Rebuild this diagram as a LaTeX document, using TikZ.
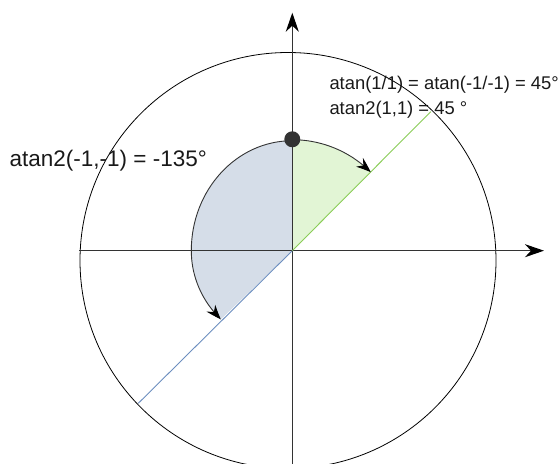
\documentclass[tikz,border=0pt]{standalone}
\usepackage{fontspec}
\setmainfont{Liberation Sans}
\usetikzlibrary{arrows.meta, bending}
\definecolor{ink}{HTML}{333333}
\definecolor{leaf}{HTML}{E2F5D5}
\definecolor{leafline}{HTML}{8ACD57}
\definecolor{slate}{HTML}{D5DDE8}
\definecolor{slateline}{HTML}{6C8EBF}

\begin{document}
\begin{tikzpicture}[x=1pt, y=1pt,
  axis/.style={draw=ink, line width=1.3pt, -{Stealth[length=19pt, width=13pt, inset=6pt, black]}},
  sweep/.style={draw=ink, line width=0.9pt, -{Stealth[length=15pt, width=11pt, inset=5pt, bend, black]}},
  lbl/.style={anchor=base west, inner sep=0pt, text=black!90}
]
  \useasboundingbox (-292.3,-212.3) rectangle (266.7,250.7);
  \clip (-292.3,-212.3) rectangle (266.7,250.7);

  \coordinate (O) at (0,0);
  \coordinate (xs) at (-213,0);
  \coordinate (xe) at (251.7,0);
  \coordinate (ys) at (0,-215);
  \coordinate (ye) at (0,238);
  \coordinate (g) at (138.4,139);
  \coordinate (b) at (-154,-152.6);

  \fill[slate] (O) -- (0,110) arc[start angle=90, end angle=180, x radius=101, y radius=110]
    arc[start angle=180, end angle=225, x radius=101, y radius=97] -- cycle;
  \fill[leaf] (O) -- (0,111) arc[start angle=90, end angle=45, radius=111] -- cycle;

  \draw[black, line width=0.8pt] (-4.3,-9.8) circle[radius=208];
  \draw[axis] (xs) -- (xe);
  \draw[axis] (ys) -- (ye);

  \draw[leafline, line width=0.9pt] (O) -- (g);
  \draw[slateline, line width=0.9pt] (O) -- (b);

  \draw[sweep] (0,111) arc[start angle=90, end angle=45, radius=111];
  \draw[sweep] (0,110) arc[start angle=90, end angle=180, x radius=101, y radius=110]
    arc[start angle=180, end angle=225, x radius=101, y radius=97];

  \node[circle, fill=ink, inner sep=0pt, minimum size=16pt] (dot) at (0,111.4) {};

  \node[lbl, font=\fontsize{18.4}{21}\selectfont] (atan) at (37,160.7) {atan(1/1) = atan(-1/-1) = 45°};
  \node[lbl, font=\fontsize{18.4}{21}\selectfont] (atanpos) at (37,136.4) {atan2(1,1) = 45 °};
  \node[lbl, font=\fontsize{22.5}{26}\selectfont] (atanneg) at (-282.8,84) {atan2(-1,-1) = -135°};
\end{tikzpicture}
\end{document}
